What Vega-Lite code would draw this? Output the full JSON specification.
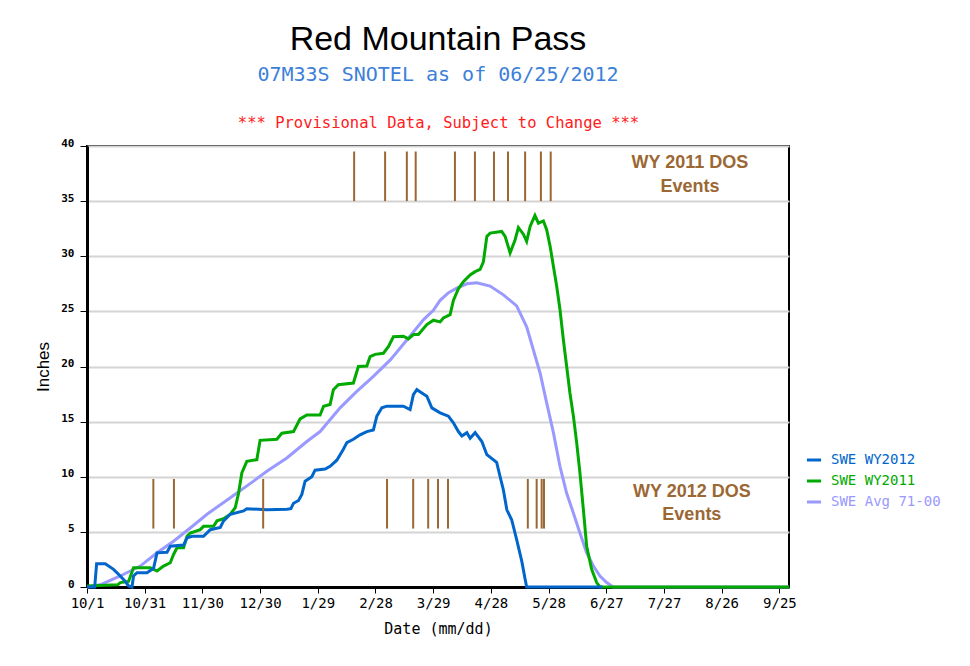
{
  "$schema": "https://vega.github.io/schema/vega-lite/v6.json",
  "width": 702,
  "height": 441,
  "autosize": "none",
  "padding": {"left": 87, "top": 146, "right": 181, "bottom": 79},
  "background": "white",
  "config": {
    "view": {"stroke": "black", "strokeWidth": 2}
  },
  "title": {
    "text": "Red Mountain Pass",
    "subtitle": "07M33S SNOTEL as of 06/25/2012",
    "font": "Liberation Sans",
    "fontSize": 34,
    "fontWeight": "normal",
    "color": "black",
    "subtitleFont": "DejaVu Sans Mono",
    "subtitleFontSize": 20,
    "subtitleColor": "#3d7fd9",
    "subtitlePadding": 8,
    "offset": 30,
    "anchor": "middle"
  },
  "datasets": {
    "swe": [
      {"series": "SWE Avg 71-00", "day": 0, "swe": 0},
      {"series": "SWE Avg 71-00", "day": 6.9, "swe": 0.2},
      {"series": "SWE Avg 71-00", "day": 17.3, "swe": 1.0},
      {"series": "SWE Avg 71-00", "day": 27.7, "swe": 1.9},
      {"series": "SWE Avg 71-00", "day": 36.4, "swe": 3.1},
      {"series": "SWE Avg 71-00", "day": 45, "swe": 4.15},
      {"series": "SWE Avg 71-00", "day": 53.7, "swe": 5.35},
      {"series": "SWE Avg 71-00", "day": 62.4, "swe": 6.6},
      {"series": "SWE Avg 71-00", "day": 74.5, "swe": 8.1},
      {"series": "SWE Avg 71-00", "day": 86.6, "swe": 9.6},
      {"series": "SWE Avg 71-00", "day": 93.5, "swe": 10.5},
      {"series": "SWE Avg 71-00", "day": 103.9, "swe": 11.7},
      {"series": "SWE Avg 71-00", "day": 114.3, "swe": 13.2},
      {"series": "SWE Avg 71-00", "day": 121.2, "swe": 14.1},
      {"series": "SWE Avg 71-00", "day": 131.6, "swe": 16.25},
      {"series": "SWE Avg 71-00", "day": 140, "swe": 17.7},
      {"series": "SWE Avg 71-00", "day": 148.9, "swe": 19.1},
      {"series": "SWE Avg 71-00", "day": 157.7, "swe": 20.6},
      {"series": "SWE Avg 71-00", "day": 166.3, "swe": 22.4},
      {"series": "SWE Avg 71-00", "day": 175, "swe": 24.25},
      {"series": "SWE Avg 71-00", "day": 180.1, "swe": 25.1},
      {"series": "SWE Avg 71-00", "day": 183.6, "swe": 26.0},
      {"series": "SWE Avg 71-00", "day": 188, "swe": 26.7},
      {"series": "SWE Avg 71-00", "day": 192.3, "swe": 27.1},
      {"series": "SWE Avg 71-00", "day": 197.5, "swe": 27.5},
      {"series": "SWE Avg 71-00", "day": 202.7, "swe": 27.6},
      {"series": "SWE Avg 71-00", "day": 209.6, "swe": 27.3},
      {"series": "SWE Avg 71-00", "day": 216.5, "swe": 26.5},
      {"series": "SWE Avg 71-00", "day": 223.4, "swe": 25.5},
      {"series": "SWE Avg 71-00", "day": 228.6, "swe": 23.6},
      {"series": "SWE Avg 71-00", "day": 232.1, "swe": 21.5},
      {"series": "SWE Avg 71-00", "day": 235.6, "swe": 19.4},
      {"series": "SWE Avg 71-00", "day": 239, "swe": 16.7},
      {"series": "SWE Avg 71-00", "day": 242.5, "swe": 14.0},
      {"series": "SWE Avg 71-00", "day": 245.9, "swe": 10.95},
      {"series": "SWE Avg 71-00", "day": 249.4, "swe": 8.5},
      {"series": "SWE Avg 71-00", "day": 252.9, "swe": 6.7},
      {"series": "SWE Avg 71-00", "day": 256.3, "swe": 4.9},
      {"series": "SWE Avg 71-00", "day": 259.8, "swe": 3.1},
      {"series": "SWE Avg 71-00", "day": 263.3, "swe": 1.9},
      {"series": "SWE Avg 71-00", "day": 266.7, "swe": 1.0},
      {"series": "SWE Avg 71-00", "day": 270.2, "swe": 0.4},
      {"series": "SWE Avg 71-00", "day": 273.6, "swe": 0},
      {"series": "SWE Avg 71-00", "day": 365, "swe": 0},

      {"series": "SWE WY2011", "day": 0, "swe": 0.1},
      {"series": "SWE WY2011", "day": 16, "swe": 0.2},
      {"series": "SWE WY2011", "day": 17.3, "swe": 0.4},
      {"series": "SWE WY2011", "day": 21.6, "swe": 0.5},
      {"series": "SWE WY2011", "day": 24.2, "swe": 1.75},
      {"series": "SWE WY2011", "day": 32.9, "swe": 1.75},
      {"series": "SWE WY2011", "day": 36.4, "swe": 1.45},
      {"series": "SWE WY2011", "day": 39.8, "swe": 1.9},
      {"series": "SWE WY2011", "day": 43.3, "swe": 2.2},
      {"series": "SWE WY2011", "day": 45, "swe": 2.95},
      {"series": "SWE WY2011", "day": 46.8, "swe": 3.55},
      {"series": "SWE WY2011", "day": 50.2, "swe": 3.55},
      {"series": "SWE WY2011", "day": 52, "swe": 4.6},
      {"series": "SWE WY2011", "day": 53.7, "swe": 4.9},
      {"series": "SWE WY2011", "day": 58.9, "swe": 5.2},
      {"series": "SWE WY2011", "day": 60.6, "swe": 5.5},
      {"series": "SWE WY2011", "day": 65.8, "swe": 5.5},
      {"series": "SWE WY2011", "day": 67.6, "swe": 6.0},
      {"series": "SWE WY2011", "day": 71, "swe": 6.2},
      {"series": "SWE WY2011", "day": 74.5, "swe": 6.6},
      {"series": "SWE WY2011", "day": 77.1, "swe": 7.2},
      {"series": "SWE WY2011", "day": 78.8, "swe": 8.5},
      {"series": "SWE WY2011", "day": 80.5, "swe": 10.35},
      {"series": "SWE WY2011", "day": 83.1, "swe": 11.4},
      {"series": "SWE WY2011", "day": 88.3, "swe": 11.55},
      {"series": "SWE WY2011", "day": 90, "swe": 13.3},
      {"series": "SWE WY2011", "day": 98.7, "swe": 13.4},
      {"series": "SWE WY2011", "day": 101.3, "swe": 13.95},
      {"series": "SWE WY2011", "day": 107.4, "swe": 14.1},
      {"series": "SWE WY2011", "day": 110.8, "swe": 15.25},
      {"series": "SWE WY2011", "day": 114.3, "swe": 15.6},
      {"series": "SWE WY2011", "day": 121.2, "swe": 15.6},
      {"series": "SWE WY2011", "day": 123, "swe": 16.4},
      {"series": "SWE WY2011", "day": 126.4, "swe": 16.55},
      {"series": "SWE WY2011", "day": 128.1, "swe": 17.9},
      {"series": "SWE WY2011", "day": 130.7, "swe": 18.35},
      {"series": "SWE WY2011", "day": 138.5, "swe": 18.5},
      {"series": "SWE WY2011", "day": 141.1, "swe": 20.0},
      {"series": "SWE WY2011", "day": 145.5, "swe": 20.05},
      {"series": "SWE WY2011", "day": 147.2, "swe": 20.9},
      {"series": "SWE WY2011", "day": 149.8, "swe": 21.1},
      {"series": "SWE WY2011", "day": 154.1, "swe": 21.2},
      {"series": "SWE WY2011", "day": 156.7, "swe": 21.8},
      {"series": "SWE WY2011", "day": 159.3, "swe": 22.7},
      {"series": "SWE WY2011", "day": 164.5, "swe": 22.75},
      {"series": "SWE WY2011", "day": 167.1, "swe": 22.5},
      {"series": "SWE WY2011", "day": 169.7, "swe": 22.9},
      {"series": "SWE WY2011", "day": 172.3, "swe": 22.9},
      {"series": "SWE WY2011", "day": 176.7, "swe": 23.8},
      {"series": "SWE WY2011", "day": 180.1, "swe": 24.2},
      {"series": "SWE WY2011", "day": 183.6, "swe": 24.05},
      {"series": "SWE WY2011", "day": 185.3, "swe": 24.4},
      {"series": "SWE WY2011", "day": 188.8, "swe": 24.7},
      {"series": "SWE WY2011", "day": 190.5, "swe": 26.0},
      {"series": "SWE WY2011", "day": 193.1, "swe": 27.05},
      {"series": "SWE WY2011", "day": 195.7, "swe": 27.7},
      {"series": "SWE WY2011", "day": 199.2, "swe": 28.3},
      {"series": "SWE WY2011", "day": 201.8, "swe": 28.6},
      {"series": "SWE WY2011", "day": 204.4, "swe": 28.8},
      {"series": "SWE WY2011", "day": 206.1, "swe": 29.5},
      {"series": "SWE WY2011", "day": 207.9, "swe": 31.8},
      {"series": "SWE WY2011", "day": 209.6, "swe": 32.1},
      {"series": "SWE WY2011", "day": 215.6, "swe": 32.25},
      {"series": "SWE WY2011", "day": 217.4, "swe": 31.8},
      {"series": "SWE WY2011", "day": 220, "swe": 30.3},
      {"series": "SWE WY2011", "day": 222.6, "swe": 31.5},
      {"series": "SWE WY2011", "day": 224.3, "swe": 32.6},
      {"series": "SWE WY2011", "day": 226.9, "swe": 32.0},
      {"series": "SWE WY2011", "day": 228.6, "swe": 31.35},
      {"series": "SWE WY2011", "day": 230.4, "swe": 32.7},
      {"series": "SWE WY2011", "day": 232.9, "swe": 33.7},
      {"series": "SWE WY2011", "day": 234.7, "swe": 33.0},
      {"series": "SWE WY2011", "day": 237.3, "swe": 33.2},
      {"series": "SWE WY2011", "day": 239, "swe": 32.4},
      {"series": "SWE WY2011", "day": 240.8, "swe": 30.9},
      {"series": "SWE WY2011", "day": 242.5, "swe": 29.1},
      {"series": "SWE WY2011", "day": 244.2, "swe": 27.3},
      {"series": "SWE WY2011", "day": 245.9, "swe": 25.2},
      {"series": "SWE WY2011", "day": 247.7, "swe": 22.4},
      {"series": "SWE WY2011", "day": 249.4, "swe": 20.0},
      {"series": "SWE WY2011", "day": 251.1, "swe": 17.6},
      {"series": "SWE WY2011", "day": 252.9, "swe": 15.5},
      {"series": "SWE WY2011", "day": 254.6, "swe": 13.1},
      {"series": "SWE WY2011", "day": 256.3, "swe": 10.35},
      {"series": "SWE WY2011", "day": 258.1, "swe": 7.0},
      {"series": "SWE WY2011", "day": 259.8, "swe": 3.7},
      {"series": "SWE WY2011", "day": 262.4, "swe": 1.6},
      {"series": "SWE WY2011", "day": 265, "swe": 0.4},
      {"series": "SWE WY2011", "day": 266.7, "swe": 0},
      {"series": "SWE WY2011", "day": 365, "swe": 0},

      {"series": "SWE WY2012", "day": 0, "swe": 0},
      {"series": "SWE WY2012", "day": 4, "swe": 0},
      {"series": "SWE WY2012", "day": 5, "swe": 2.1},
      {"series": "SWE WY2012", "day": 9.5, "swe": 2.1},
      {"series": "SWE WY2012", "day": 13.8, "swe": 1.6},
      {"series": "SWE WY2012", "day": 17.3, "swe": 1.0},
      {"series": "SWE WY2012", "day": 19.9, "swe": 0.5},
      {"series": "SWE WY2012", "day": 21.6, "swe": 0.1},
      {"series": "SWE WY2012", "day": 23.4, "swe": 0},
      {"series": "SWE WY2012", "day": 24.2, "swe": 1.0},
      {"series": "SWE WY2012", "day": 26, "swe": 1.3},
      {"series": "SWE WY2012", "day": 31.2, "swe": 1.3},
      {"series": "SWE WY2012", "day": 34.6, "swe": 1.7},
      {"series": "SWE WY2012", "day": 36.4, "swe": 3.1},
      {"series": "SWE WY2012", "day": 41.6, "swe": 3.15},
      {"series": "SWE WY2012", "day": 43.3, "swe": 3.7},
      {"series": "SWE WY2012", "day": 50.2, "swe": 3.8},
      {"series": "SWE WY2012", "day": 52, "swe": 4.45},
      {"series": "SWE WY2012", "day": 54.6, "swe": 4.6},
      {"series": "SWE WY2012", "day": 60.6, "swe": 4.6},
      {"series": "SWE WY2012", "day": 64.1, "swe": 5.2},
      {"series": "SWE WY2012", "day": 69.3, "swe": 5.4},
      {"series": "SWE WY2012", "day": 71, "swe": 6.0},
      {"series": "SWE WY2012", "day": 74.5, "swe": 6.6},
      {"series": "SWE WY2012", "day": 81.4, "swe": 6.9},
      {"series": "SWE WY2012", "day": 83.1, "swe": 7.1},
      {"series": "SWE WY2012", "day": 93.5, "swe": 7.0},
      {"series": "SWE WY2012", "day": 104, "swe": 7.05},
      {"series": "SWE WY2012", "day": 106, "swe": 7.1},
      {"series": "SWE WY2012", "day": 107.4, "swe": 7.6},
      {"series": "SWE WY2012", "day": 110, "swe": 7.85},
      {"series": "SWE WY2012", "day": 111.7, "swe": 8.4},
      {"series": "SWE WY2012", "day": 113.4, "swe": 9.6},
      {"series": "SWE WY2012", "day": 116.9, "swe": 10.0},
      {"series": "SWE WY2012", "day": 118.6, "swe": 10.6},
      {"series": "SWE WY2012", "day": 123.8, "swe": 10.7},
      {"series": "SWE WY2012", "day": 126.4, "swe": 10.95},
      {"series": "SWE WY2012", "day": 129.9, "swe": 11.5},
      {"series": "SWE WY2012", "day": 133.3, "swe": 12.5},
      {"series": "SWE WY2012", "day": 135.1, "swe": 13.1},
      {"series": "SWE WY2012", "day": 138.5, "swe": 13.4},
      {"series": "SWE WY2012", "day": 142, "swe": 13.8},
      {"series": "SWE WY2012", "day": 145.5, "swe": 14.1},
      {"series": "SWE WY2012", "day": 148.9, "swe": 14.25},
      {"series": "SWE WY2012", "day": 150.7, "swe": 15.5},
      {"series": "SWE WY2012", "day": 153.3, "swe": 16.25},
      {"series": "SWE WY2012", "day": 155.9, "swe": 16.4},
      {"series": "SWE WY2012", "day": 164.5, "swe": 16.4},
      {"series": "SWE WY2012", "day": 168, "swe": 16.1},
      {"series": "SWE WY2012", "day": 169.7, "swe": 17.45},
      {"series": "SWE WY2012", "day": 171.5, "swe": 17.9},
      {"series": "SWE WY2012", "day": 174.1, "swe": 17.6},
      {"series": "SWE WY2012", "day": 176.7, "swe": 17.3},
      {"series": "SWE WY2012", "day": 179.3, "swe": 16.25},
      {"series": "SWE WY2012", "day": 183.6, "swe": 15.8},
      {"series": "SWE WY2012", "day": 187.9, "swe": 15.5},
      {"series": "SWE WY2012", "day": 190.5, "swe": 14.9},
      {"series": "SWE WY2012", "day": 193.1, "swe": 14.1},
      {"series": "SWE WY2012", "day": 194.9, "swe": 13.7},
      {"series": "SWE WY2012", "day": 197.5, "swe": 14.0},
      {"series": "SWE WY2012", "day": 199.2, "swe": 13.5},
      {"series": "SWE WY2012", "day": 201.8, "swe": 14.0},
      {"series": "SWE WY2012", "day": 205.3, "swe": 13.2},
      {"series": "SWE WY2012", "day": 207.9, "swe": 12.0},
      {"series": "SWE WY2012", "day": 213, "swe": 11.3},
      {"series": "SWE WY2012", "day": 214.8, "swe": 10.0},
      {"series": "SWE WY2012", "day": 216.5, "swe": 8.8},
      {"series": "SWE WY2012", "day": 218.3, "swe": 7.0},
      {"series": "SWE WY2012", "day": 220.8, "swe": 6.1},
      {"series": "SWE WY2012", "day": 223.4, "swe": 4.3},
      {"series": "SWE WY2012", "day": 226.1, "swe": 2.3},
      {"series": "SWE WY2012", "day": 227.8, "swe": 0.7},
      {"series": "SWE WY2012", "day": 228.6, "swe": 0},
      {"series": "SWE WY2012", "day": 268, "swe": 0}
    ],
    "dos": [
      {"wy": "2011", "day": 138.9},
      {"wy": "2011", "day": 155.0},
      {"wy": "2011", "day": 166.3},
      {"wy": "2011", "day": 170.9},
      {"wy": "2011", "day": 191.3},
      {"wy": "2011", "day": 201.7},
      {"wy": "2011", "day": 211.6},
      {"wy": "2011", "day": 218.9},
      {"wy": "2011", "day": 227.8},
      {"wy": "2011", "day": 236.0},
      {"wy": "2011", "day": 241.1},
      {"wy": "2012", "day": 34.5},
      {"wy": "2012", "day": 45.2},
      {"wy": "2012", "day": 91.6},
      {"wy": "2012", "day": 156.0},
      {"wy": "2012", "day": 169.6},
      {"wy": "2012", "day": 177.4},
      {"wy": "2012", "day": 182.5},
      {"wy": "2012", "day": 187.7},
      {"wy": "2012", "day": 229.2},
      {"wy": "2012", "day": 233.8},
      {"wy": "2012", "day": 236.4},
      {"wy": "2012", "day": 237.6}
    ],
    "notes": [
      {"day": 313.5, "v": 38.5, "label": "WY 2011 DOS"},
      {"day": 313.5, "v": 36.3, "label": "Events"},
      {"day": 314.5, "v": 8.6, "label": "WY 2012 DOS"},
      {"day": 314.5, "v": 6.5, "label": "Events"}
    ]
  },
  "layer": [
    {
      "data": {"name": "swe"},
      "transform": [{"filter": "datum.series === 'SWE Avg 71-00'"}],
      "mark": {"type": "line", "strokeWidth": 3, "interpolate": "linear"},
      "encoding": {
        "x": {
          "field": "day", "type": "quantitative",
          "scale": {"domain": [0, 365], "nice": false, "zero": false},
          "axis": {
            "orient": "bottom",
            "values": [0, 30, 60, 90, 120, 150, 180, 210, 240, 270, 300, 330, 360],
            "labelExpr": "timeFormat(datetime(2011, 9, 1 + datum.value), '%-m/%-d')",
            "labelFont": "DejaVu Sans Mono", "labelFontSize": 14, "labelColor": "black",
            "labelPadding": 3, "labelFlush": false, "labelOverlap": false,
            "tickColor": "black", "tickSize": 6, "tickWidth": 1,
            "domainColor": "black", "domainWidth": 3,
            "grid": false,
            "title": "Date (mm/dd)",
            "titleFont": "DejaVu Sans Mono", "titleFontSize": 15, "titleFontWeight": "normal",
            "titleColor": "black", "titlePadding": 11
          }
        },
        "y": {
          "field": "swe", "type": "quantitative",
          "scale": {"domain": [0, 40], "nice": false},
          "axis": {
            "orient": "left",
            "values": [0, 5, 10, 15, 20, 25, 30, 35, 40],
            "labelFont": "DejaVu Sans Mono", "labelFontSize": 11, "labelFontWeight": "bold",
            "labelColor": "black", "labelBaseline": "alphabetic", "labelPadding": 6,
            "tickColor": "black", "tickSize": 7, "tickWidth": 1,
            "domainColor": "black", "domainWidth": 3,
            "grid": true, "gridColor": "#d4d4d4", "gridWidth": 2,
            "title": "Inches",
            "titleFont": "Liberation Sans", "titleFontSize": 17, "titleFontWeight": "normal",
            "titleColor": "black", "titlePadding": 8
          }
        },
        "color": {
          "field": "series", "type": "nominal",
          "scale": {
            "domain": ["SWE WY2012", "SWE WY2011", "SWE Avg 71-00"],
            "range": ["#0066cc", "#00aa00", "#9999ff"]
          },
          "legend": {
            "orient": "none", "legendX": 718, "legendY": 305,
            "title": null,
            "labelFont": "DejaVu Sans Mono", "labelFontSize": 14,
            "symbolType": "stroke", "symbolSize": 200, "symbolStrokeWidth": 3,
            "rowPadding": 5, "labelOffset": 8,
            "encode": {"labels": {"update": {"fill": {"scale": "color", "field": "value"}}}}
          }
        }
      }
    },
    {
      "data": {"name": "swe"},
      "transform": [{"filter": "datum.series === 'SWE WY2011'"}],
      "mark": {"type": "line", "strokeWidth": 3, "interpolate": "linear"},
      "encoding": {
        "x": {"field": "day", "type": "quantitative", "axis": null},
        "y": {"field": "swe", "type": "quantitative"},
        "color": {"field": "series", "type": "nominal"}
      }
    },
    {
      "data": {"name": "swe"},
      "transform": [{"filter": "datum.series === 'SWE WY2012'"}],
      "mark": {"type": "line", "strokeWidth": 3, "interpolate": "linear"},
      "encoding": {
        "x": {"field": "day", "type": "quantitative", "axis": null},
        "y": {"field": "swe", "type": "quantitative"},
        "color": {"field": "series", "type": "nominal"}
      }
    },
    {
      "data": {"name": "dos"},
      "transform": [{"filter": "datum.wy === '2011'"}],
      "mark": {"type": "rule", "color": "#9b6733", "strokeWidth": 2},
      "encoding": {
        "x": {
          "field": "day", "type": "quantitative",
          "axis": {
            "orient": "top", "labels": false, "ticks": false, "domain": false, "grid": false,
            "title": "*** Provisional Data, Subject to Change ***",
            "titleFont": "DejaVu Sans Mono", "titleFontSize": 15.5, "titleFontWeight": "normal",
            "titleColor": "#ff2020", "titlePadding": 16
          }
        },
        "y": {"datum": 35, "type": "quantitative"},
        "y2": {"datum": 39.5}
      }
    },
    {
      "data": {"name": "dos"},
      "transform": [{"filter": "datum.wy === '2012'"}],
      "mark": {"type": "rule", "color": "#9b6733", "strokeWidth": 2},
      "encoding": {
        "x": {"field": "day", "type": "quantitative", "axis": null},
        "y": {"datum": 5.3, "type": "quantitative"},
        "y2": {"datum": 9.8}
      }
    },
    {
      "data": {"name": "notes"},
      "mark": {"type": "text", "font": "Liberation Sans", "fontSize": 18, "fontWeight": "bold", "color": "#9b6733", "align": "center", "baseline": "middle"},
      "encoding": {
        "x": {"field": "day", "type": "quantitative", "axis": null},
        "y": {"field": "v", "type": "quantitative"},
        "text": {"field": "label"}
      }
    }
  ]
}
